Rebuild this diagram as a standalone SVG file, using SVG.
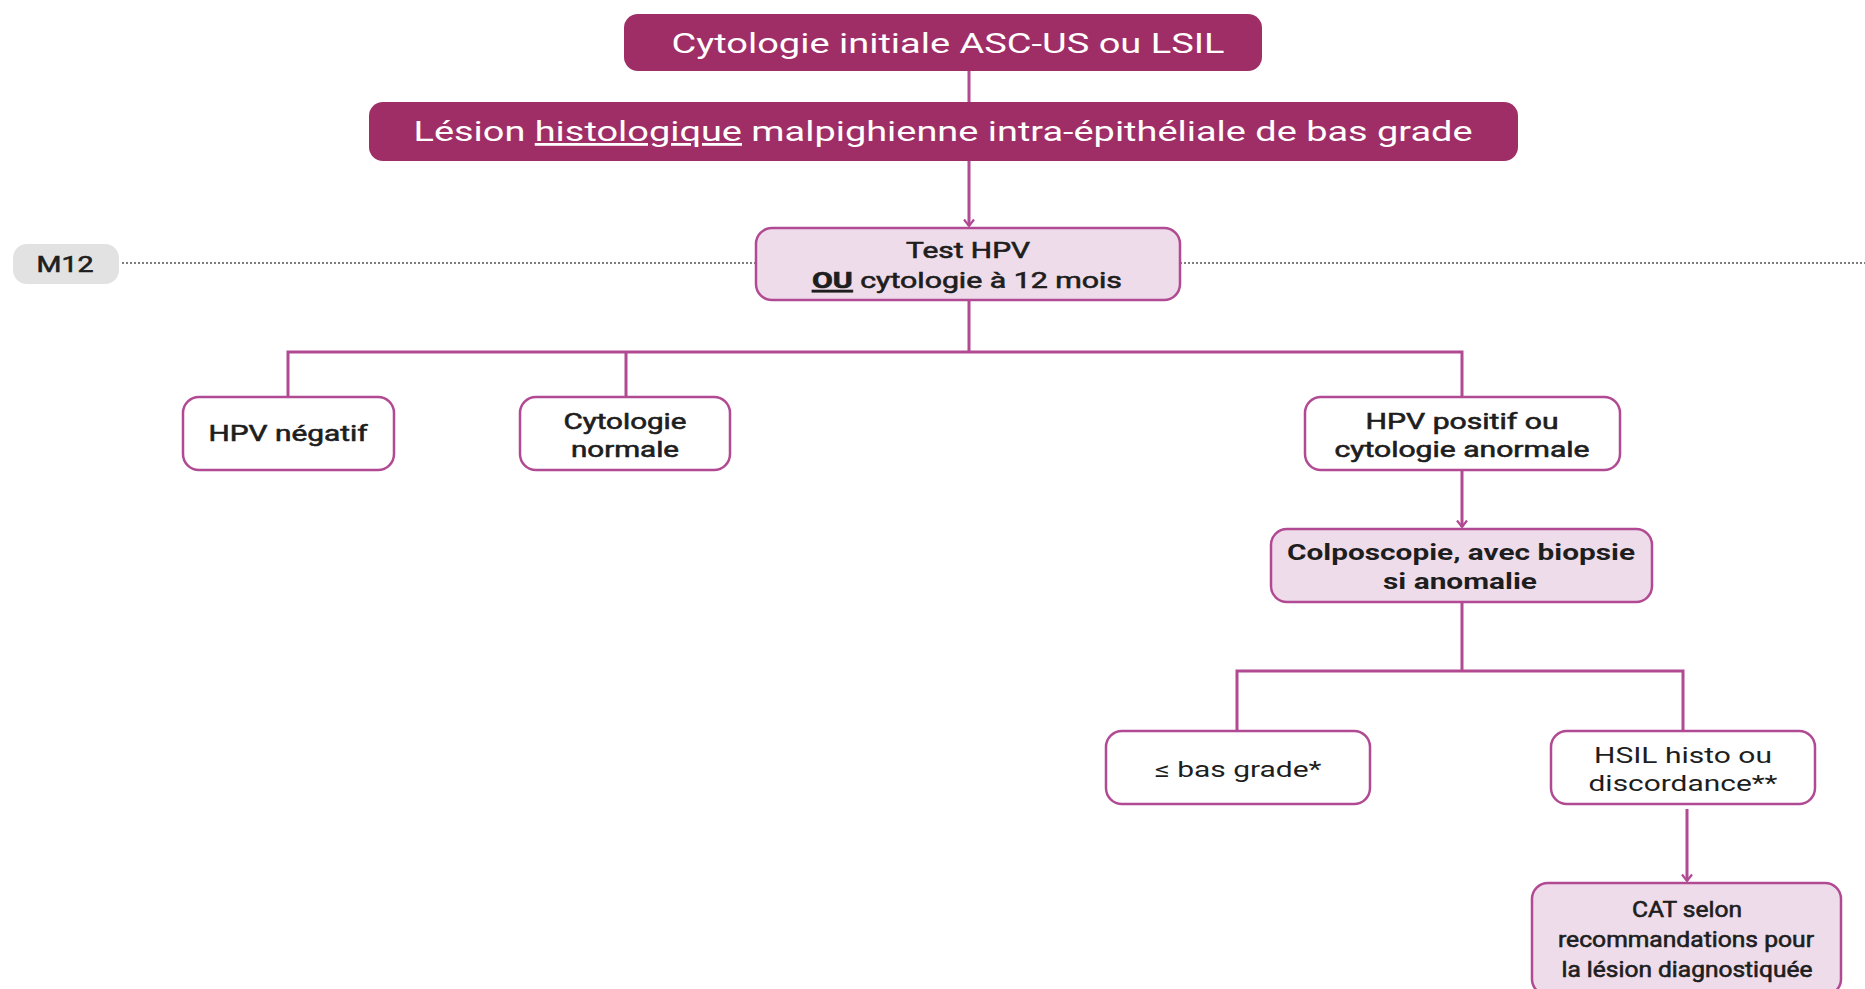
<svg xmlns="http://www.w3.org/2000/svg" width="1865" height="989" viewBox="0 0 1865 989">
  <style>
    .dark { fill: #9F2E67; }
    .light { fill: #EFDCEA; stroke: #B14A93; stroke-width: 2.5; }
    .plain { fill: #FFFFFF; stroke: #B14A93; stroke-width: 2.5; }
    .conn { fill: none; stroke: #B14A93; stroke-width: 3; }
    .dots { fill: none; stroke: #7E7E7E; stroke-width: 2; stroke-dasharray: 2 2; }
    text { font-family: Roboto, "Liberation Sans", sans-serif; text-anchor: middle; }
    .head { fill: #FFFFFF; font-size: 28px; }
    .body { fill: #1E1E1E; font-size: 22px; font-weight: 400; stroke: #1E1E1E; stroke-width: 0.6; }
    .reg { fill: #1E1E1E; font-size: 22px; font-weight: 400; }
    .strong { fill: #1E1E1E; font-size: 22px; font-weight: 700; }
  </style>
  <defs>
    <marker id="arrow" viewBox="0 0 12 12" refX="10.5" refY="6" markerWidth="12" markerHeight="12" markerUnits="userSpaceOnUse" orient="auto">
      <polyline points="4,1 10.5,6 4,11" fill="none" stroke="#B14A93" stroke-width="2.2"/>
    </marker>
  </defs>

  <rect width="1865" height="989" fill="#FFFFFF"/>

  <!-- timeline marker -->
  <g id="timeline">
    <line class="dots" x1="122" y1="263" x2="756" y2="263"/>
    <line class="dots" x1="1180" y1="263" x2="1865" y2="263"/>
    <rect x="13" y="244" width="106" height="40" rx="14" fill="#E2E2E2"/>
    <text class="body" x="65" y="272" textLength="57" lengthAdjust="spacingAndGlyphs">M12</text>
  </g>

  <!-- connectors -->
  <g id="connectors">
    <line class="conn" x1="969" y1="71" x2="969" y2="102"/>
    <line class="conn" x1="969" y1="161" x2="969" y2="226" marker-end="url(#arrow)"/>
    <polyline class="conn" points="969,300 969,352"/>
    <polyline class="conn" points="288,397 288,352 1462,352 1462,397"/>
    <line class="conn" x1="626" y1="352" x2="626" y2="397"/>
    <line class="conn" x1="1462" y1="470" x2="1462" y2="527" marker-end="url(#arrow)"/>
    <polyline class="conn" points="1462,602 1462,671"/>
    <polyline class="conn" points="1237,731 1237,671 1683,671 1683,731"/>
    <line class="conn" x1="1687" y1="809" x2="1687" y2="881" marker-end="url(#arrow)"/>
  </g>

  <g id="n-initiale">
    <rect class="dark" x="624" y="14" width="638" height="57" rx="14"/>
    <text class="head" x="948" y="53" textLength="553" lengthAdjust="spacingAndGlyphs">Cytologie initiale ASC-US ou LSIL</text>
  </g>

  <g id="n-lesion">
    <rect class="dark" x="369" y="102" width="1149" height="59" rx="14"/>
    <text class="head" x="943" y="141" textLength="1059" lengthAdjust="spacingAndGlyphs">Lésion <tspan text-decoration="underline">histologique</tspan> malpighienne intra-épithéliale de bas grade</text>
  </g>

  <g id="n-test">
    <rect class="light" x="756" y="228" width="424" height="72" rx="16"/>
    <text class="body" x="968" y="258" textLength="124" lengthAdjust="spacingAndGlyphs">Test HPV</text>
    <text class="body" x="967" y="288" textLength="310" lengthAdjust="spacingAndGlyphs"><tspan font-weight="700" text-decoration="underline">OU</tspan> cytologie à 12 mois</text>
  </g>

  <g id="n-hpv-neg">
    <rect class="plain" x="183" y="397" width="211" height="73" rx="16"/>
    <text class="body" x="288" y="441" textLength="159" lengthAdjust="spacingAndGlyphs">HPV négatif</text>
  </g>

  <g id="n-cyto-normale">
    <rect class="plain" x="520" y="397" width="210" height="73" rx="16"/>
    <text class="body" x="625" y="429" textLength="123" lengthAdjust="spacingAndGlyphs">Cytologie</text>
    <text class="body" x="625" y="457" textLength="108" lengthAdjust="spacingAndGlyphs">normale</text>
  </g>

  <g id="n-hpv-pos">
    <rect class="plain" x="1305" y="397" width="315" height="73" rx="16"/>
    <text class="body" x="1462" y="429" textLength="193" lengthAdjust="spacingAndGlyphs">HPV positif ou</text>
    <text class="body" x="1462" y="457" textLength="255" lengthAdjust="spacingAndGlyphs">cytologie anormale</text>
  </g>

  <g id="n-colpo">
    <rect class="light" x="1271" y="529" width="381" height="73" rx="16"/>
    <text class="strong" x="1461" y="560" textLength="348" lengthAdjust="spacingAndGlyphs">Colposcopie, avec biopsie</text>
    <text class="strong" x="1460" y="589" textLength="154" lengthAdjust="spacingAndGlyphs">si anomalie</text>
  </g>

  <g id="n-bas-grade">
    <rect class="plain" x="1106" y="731" width="264" height="73" rx="16"/>
    <text class="reg" x="1238" y="777" textLength="167" lengthAdjust="spacingAndGlyphs">≤ bas grade*</text>
  </g>

  <g id="n-hsil">
    <rect class="plain" x="1551" y="731" width="264" height="73" rx="16"/>
    <text class="reg" x="1683" y="763" textLength="178" lengthAdjust="spacingAndGlyphs">HSIL histo ou</text>
    <text class="reg" x="1683" y="791" textLength="189" lengthAdjust="spacingAndGlyphs">discordance**</text>
  </g>

  <g id="n-cat">
    <rect class="light" x="1532" y="883" width="309" height="112" rx="16"/>
    <text class="body" x="1687" y="917" textLength="110" lengthAdjust="spacingAndGlyphs">CAT selon</text>
    <text class="body" x="1686" y="947" textLength="256" lengthAdjust="spacingAndGlyphs">recommandations pour</text>
    <text class="body" x="1687" y="977" textLength="251" lengthAdjust="spacingAndGlyphs">la lésion diagnostiquée</text>
  </g>
</svg>
